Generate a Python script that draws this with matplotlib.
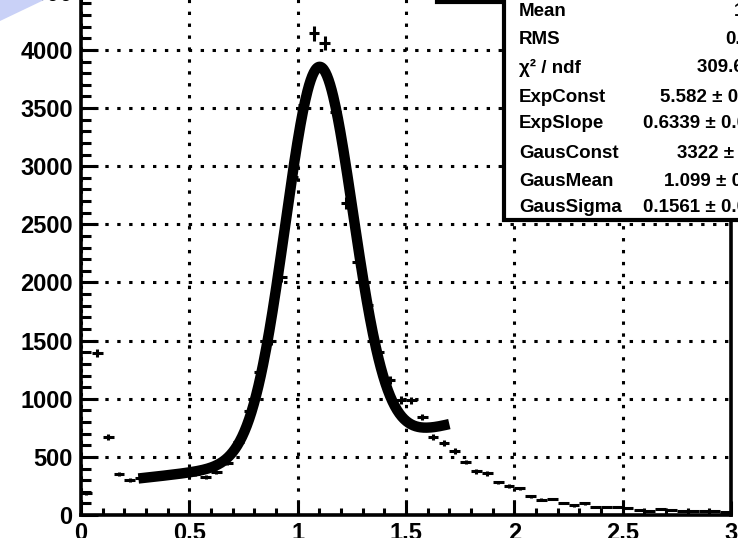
import numpy as np
import matplotlib
matplotlib.use("Agg")
import matplotlib.pyplot as plt
from matplotlib.ticker import MultipleLocator
from matplotlib.patches import Polygon, Rectangle
from matplotlib.lines import Line2D

plt.rcParams['font.family'] = ['Liberation Sans', 'DejaVu Sans']
plt.rcParams['font.weight'] = 'bold'

# histogram, 60 bins of width 0.05 from 0 to 3
bin_centers = np.arange(60) * 0.05 + 0.025
counts = [190, 1394, 671, 353, 305, 320, 330, 335, 345, 350,
          355, 327, 370, 450, 632, 895, 1226, 1497, 2047, 2910,
          3527, 4146, 4060, 3467, 2684, 2176, 1806, 1405, 1161, 990,
          985, 843, 671, 619, 551, 456, 375, 357, 280, 249,
          228, 163, 133, 138, 103, 82, 99, 69, 68, 73,
          56, 43, 38, 48, 43, 34, 34, 34, 34, 30]

# fit parameters (as shown in the stats box)
exp_const = 5.582
exp_slope = 0.6339
gaus_const = 3322
gaus_mean = 1.099
gaus_sigma = 0.1561
fit_range = (0.265, 1.70)

stat_labels = ["Mean", "RMS", "χ² / ndf", "ExpConst", "ExpSlope",
               "GausConst", "GausMean", "GausSigma"]
stat_values = ["1.102", "0.3012", "309.6 / 53", "5.582 ± 0.021",
               "0.6339 ± 0.0217", "3322 ± 25.1", "1.099 ± 0.001",
               "0.1561 ± 0.0012"]

W, H = 738, 538
fig = plt.figure(figsize=(W / 100, H / 100), dpi=100)

# background triangle in the top left corner (slide background)
fig.patches.append(Polygon([[0, 1 - 21 / H], [0, 1], [44 / W, 1]],
                           closed=True, transform=fig.transFigure,
                           facecolor='#c9d1f7', edgecolor='none'))

px_per_count = 0.11625
top_px = -20
ax = fig.add_axes([81 / W, (H - 515) / H, (731 - 81) / W, (515 - top_px) / H])
ax.set_xlim(0, 3)
ax.set_ylim(0, (515 - top_px) / px_per_count)

counts = np.array(counts, dtype=float)
ax.errorbar(bin_centers, counts, xerr=0.025, yerr=np.sqrt(counts), fmt='none',
            ecolor='black', elinewidth=2.2, capsize=0, zorder=3)

xf = np.linspace(fit_range[0], fit_range[1], 400)
yf = np.exp(exp_const + exp_slope * xf) + \
    gaus_const * np.exp(-0.5 * ((xf - gaus_mean) / gaus_sigma) ** 2)
ax.plot(xf, yf, color='black', lw=7.5, solid_capstyle='butt', zorder=4)

ax.xaxis.set_major_locator(MultipleLocator(0.5))
ax.xaxis.set_minor_locator(MultipleLocator(0.1))
ax.yaxis.set_major_locator(MultipleLocator(500))
ax.yaxis.set_minor_locator(MultipleLocator(100))
ax.set_xticklabels([]) if False else None
ax.xaxis.set_major_formatter(matplotlib.ticker.FuncFormatter(lambda v, p: f"{v:g}"))
ax.yaxis.set_major_formatter(matplotlib.ticker.FuncFormatter(lambda v, p: f"{v:g}"))

ax.tick_params(axis='x', which='major', direction='in', length=10, width=2.2,
               labelsize=17, pad=5)
ax.tick_params(axis='x', which='minor', direction='in', length=5, width=2.2)
ax.tick_params(axis='y', which='major', direction='in', length=12, width=2.2,
               labelsize=17, pad=6)
ax.tick_params(axis='y', which='minor', direction='in', length=7, width=2.2)
for lab in ax.get_xticklabels() + ax.get_yticklabels():
    lab.set_fontweight('bold')

for s in ax.spines.values():
    s.set_linewidth(2.6)

ax.grid(True, which='major', color='black', linewidth=2.2,
        linestyle=(0, (1.1, 2.8)), dash_capstyle='butt')
ax.set_axisbelow(True)

# stats box (extends past the right edge of the image)
box_left, box_bottom = 504, 220
fig.patches.append(Rectangle((box_left / W, (H - box_bottom) / H), 0.5, 0.5,
                             transform=fig.transFigure, facecolor='white',
                             edgecolor='black', linewidth=3, zorder=10))
fig.lines.append(Line2D([437 / W, box_left / W], [1 - 1.5 / H, 1 - 1.5 / H],
                        transform=fig.transFigure, color='black', lw=3, zorder=10))

label_x = 519
row_y = [12, 40, 68, 97, 124, 153, 182, 208]
value_x = [734, 725, 697, 660, 643, 677, 664, 643]
for lab, val, y, vx in zip(stat_labels, stat_values, row_y, value_x):
    fig.text(label_x / W, 1 - y / H, lab, ha='left', va='center',
             fontsize=13.5, fontweight='bold', zorder=11)
    fig.text(vx / W, 1 - y / H, val, ha='left', va='center',
             fontsize=13.5, fontweight='bold', zorder=11)

fig.savefig("out.png", dpi=100)
